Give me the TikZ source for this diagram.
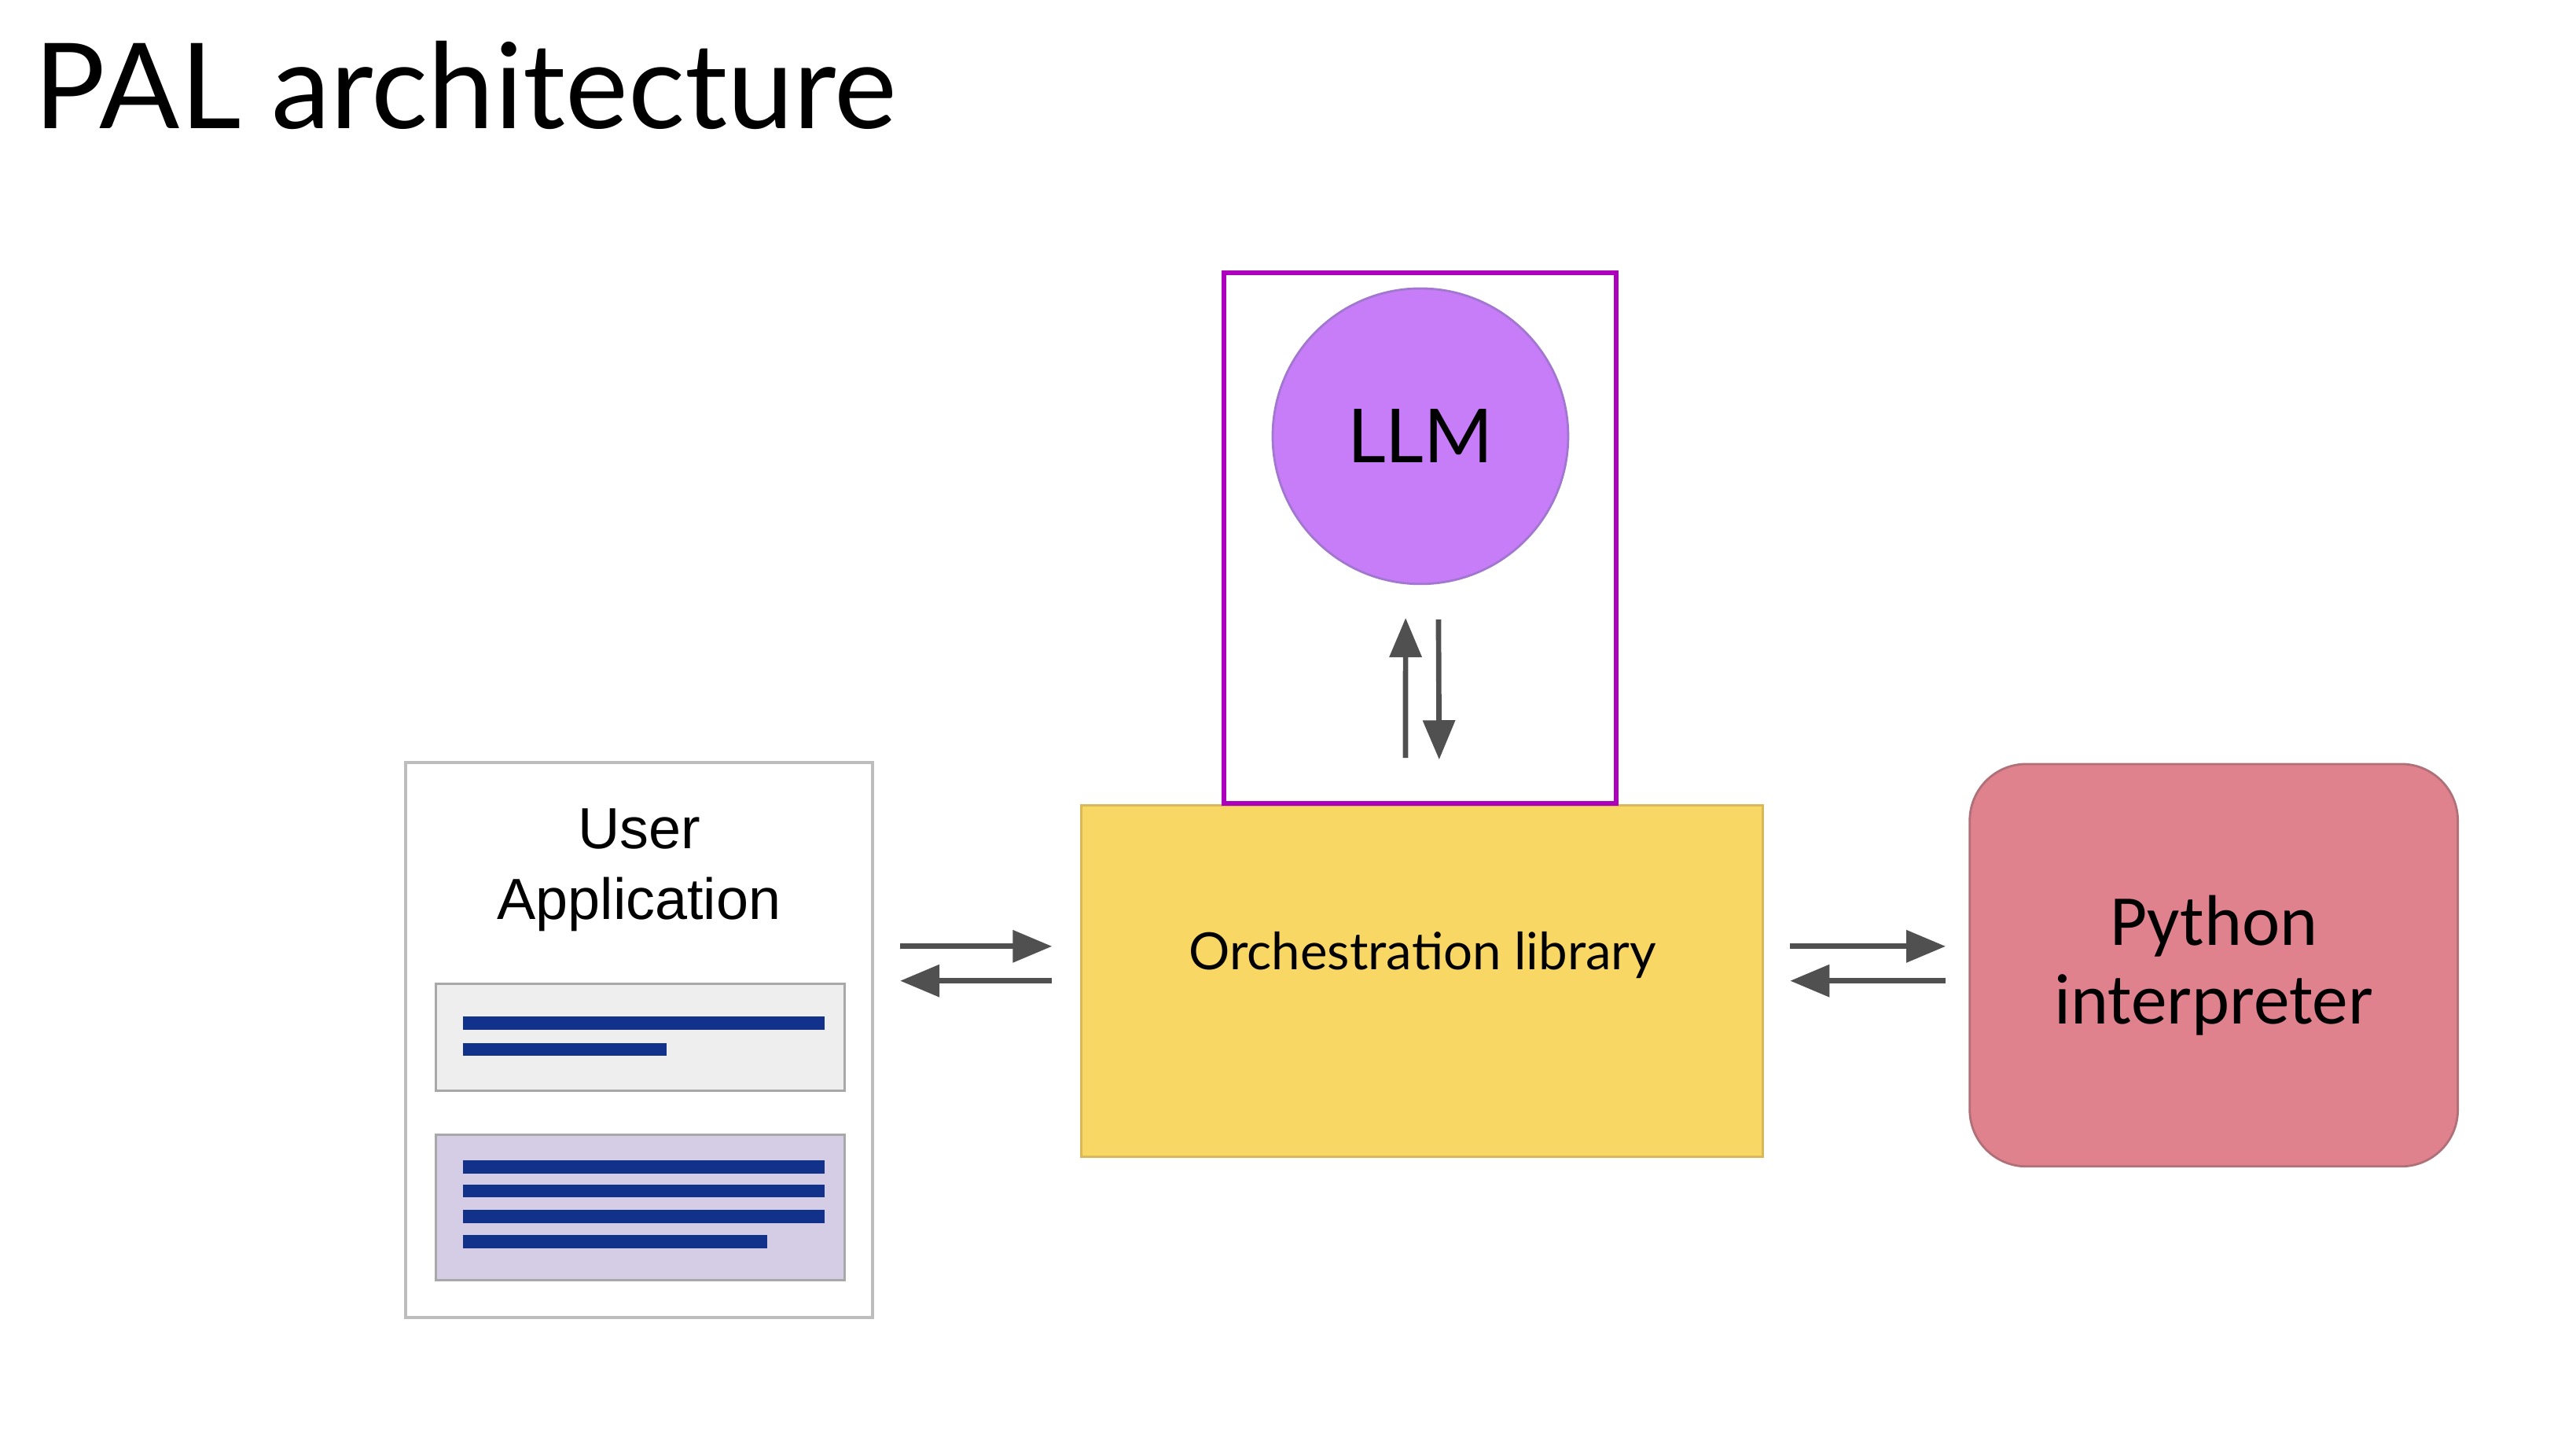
\documentclass[tikz,border=0pt]{standalone}
\usepackage{fontspec}
\setmainfont{Lato}
\newfontfamily\arialfont{Liberation Sans}
\newfontfamily\calibrifont{Carlito}
\usetikzlibrary{arrows.meta,calc}
\definecolor{orchyellow}{HTML}{F9D765}
\definecolor{orchedge}{HTML}{D8B85A}
\definecolor{pyrose}{HTML}{DF828E}
\definecolor{pyedge}{HTML}{B07078}
\definecolor{llmviolet}{HTML}{C77CF8}
\definecolor{llmedge}{HTML}{A277CF}
\definecolor{framemag}{HTML}{AD00BD}
\definecolor{appedge}{HTML}{BDBDBD}
\definecolor{paneledge}{HTML}{A8A8A8}
\definecolor{panelgray}{HTML}{EEEEEE}
\definecolor{panellav}{HTML}{D5CCE6}
\definecolor{textblue}{HTML}{12318A}
\definecolor{arrgray}{HTML}{505050}
\begin{document}
\begin{tikzpicture}[x=0.0209cm,y=-0.0209cm]
\tikzstyle{bx} = [rectangle,inner sep=0pt] %plain box
\tikzstyle{panel} = [bx,draw=paneledge,line width=0.9pt] %panel in the app
\tikzstyle{bar} = [textblue,line width=4.7pt,line cap=butt] %text bar
\tikzstyle{arr} = [-{Triangle[length=0.5cm,width=0.4cm]},arrgray,line width=1.9pt] %arrow
\fill[white](0,0)rectangle(1568,874.5);
\useasboundingbox(0,0)rectangle(1568,874.5);
\node[anchor=base west,inner sep=0pt](title)at(20.5,78){\fontsize{43}{50}\selectfont PAL architecture};
% user application
\node[bx,draw=appedge,line width=1pt,fill=white,minimum width=5.94cm,minimum height=7.06cm](ua)at(389,633){};
\node[inner sep=0pt,align=center,font=\arialfont\fontsize{21}{25.6}\selectfont](uatxt)at(389,529.5){User\\Application};
\node[panel,fill=panelgray,minimum width=5.2cm,minimum height=1.36cm](pa)at(389.8,631.5){};
\node[panel,fill=panellav,minimum width=5.2cm,minimum height=1.85cm](pb)at(389.8,734.8){};
\draw[bar](281.8,622.7)--(502,622.7);
\draw[bar](281.8,638.7)--(405.6,638.7);
\foreach \y in {710.2,725,740.5}
  \draw[bar](281.8,\y)--(502,\y);
\draw[bar](281.8,755.7)--(467,755.7);
% orchestration, llm, python
\node[bx,draw=orchedge,line width=0.9pt,fill=orchyellow,minimum width=8.67cm,minimum height=4.47cm](orch)at(865.5,597){};
\node[inner sep=0pt,font=\fontsize{18.6}{23}\selectfont](orchtxt)at(866,581.5){Orchestration library};
\node[bx,draw=framemag,line width=1.7pt,minimum width=4.995cm,minimum height=6.75cm](frame)at(864.5,327.5){};
\node[circle,draw=llmedge,line width=0.8pt,fill=llmviolet,minimum size=3.76cm,inner sep=0pt,font=\fontsize{27}{32}\selectfont](llm)at(864.6,265.5){LLM};
\node[bx,rounded corners=0.72cm,draw=pyedge,line width=0.8pt,fill=pyrose,minimum width=6.21cm,minimum height=5.12cm,align=center,font=\calibrifont\fontsize{26}{28.5}\selectfont](py)at(1347.5,587.5){Python\\interpreter};
% arrows
\draw[arr]($(ua.east|-orch.west)+(16,-21)$)--($(orch.west)+(-17,-21)$);
\draw[arr]($(orch.west)+(-17,0)$)--($(ua.east|-orch.west)+(16,0)$);
\draw[arr]($(orch.east)+(16,-21)$)--($(py.west|-orch.east)+(-14,-21)$);
\draw[arr]($(py.west|-orch.east)+(-14,0)$)--($(orch.east)+(16,0)$);
\draw[arr]($(orch.north)+(-10,-28)$)--($(llm.south)+(-9,20)$);
\draw[arr]($(llm.south)+(11,21)$)--($(orch.north)+(10.5,-27)$);
\end{tikzpicture}
\end{document}
